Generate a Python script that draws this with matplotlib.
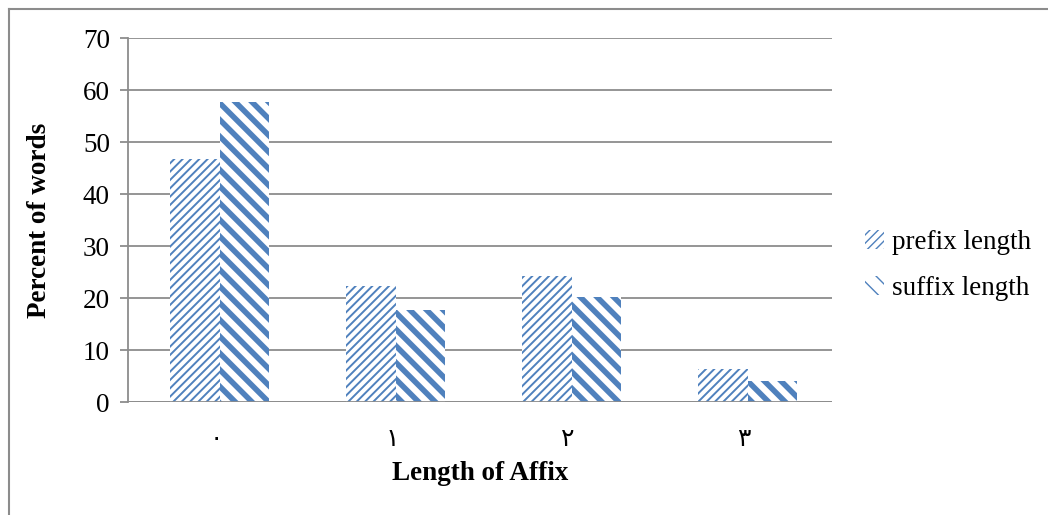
import matplotlib.pyplot as plt
import numpy as np
from matplotlib.lines import Line2D

categories = ["\u0660", "\u0661", "\u0662", "\u0663"]
prefix_length = [46.7, 22.3, 24.2, 6.3]
suffix_length = [57.7, 17.7, 20.2, 4.0]
series_names = ["prefix length", "suffix length"]

blue = "#4F81BD"
plt.rcParams["font.family"] = ["Liberation Serif", "DejaVu Sans"]

fig = plt.figure(figsize=(10.48, 5.15), dpi=100)
ax = fig.add_axes([128 / 1048, 113 / 515, 704 / 1048, 364 / 515])

x = np.arange(len(categories))
w = 0.28
b1 = ax.bar(x - w / 2 + 0.02, prefix_length, w, color="white", edgecolor=blue,
            hatch="////", linewidth=0, label=series_names[0], zorder=3)
b2 = ax.bar(x + w / 2 + 0.02, suffix_length, w, color="white", edgecolor=blue,
            hatch="\\\\", linewidth=0, label=series_names[1], zorder=3)
for p in b1:
    p.set_hatch_linewidth(1.4)
for p in b2:
    p.set_hatch_linewidth(4)

ax.set_xlim(-0.5, 3.5)
ax.set_ylim(0, 70)
ax.set_yticks(range(0, 71, 10))
ax.yaxis.grid(True, color="#8c8c8c", linewidth=1.3, zorder=0)
ax.set_axisbelow(True)
for s in ["top", "right", "bottom"]:
    ax.spines[s].set_visible(False)
ax.spines["left"].set_color("#8c8c8c")
ax.spines["left"].set_linewidth(1.3)
ax.tick_params(axis="y", length=6, color="#8c8c8c", width=1.3, labelsize=19.5, pad=7)
ax.tick_params(axis="x", length=0, pad=18)
ax.set_xticks(x)
ax.set_xticklabels(categories, fontsize=18, family="DejaVu Sans")
ax.axhline(0, color="#8c8c8c", linewidth=1.3, zorder=4)

ax.set_ylabel("Percent of words", fontsize=19.5, fontweight="bold", labelpad=22)
ax.set_xlabel("Length of Affix", fontsize=19.5, fontweight="bold", labelpad=7)

ax.legend(loc="center left", bbox_to_anchor=(1.012, 0.375), frameon=False,
          fontsize=19.5, handlelength=0.7, handleheight=0.7, handletextpad=0.3,
          labelspacing=0.75)

# outer frame (top and left visible)
fig.add_artist(Line2D([8.5 / 1048, 8.5 / 1048], [0, 1 - 8.5 / 515],
                      transform=fig.transFigure, color="#8c8c8c", linewidth=1.5))
fig.add_artist(Line2D([8.5 / 1048, 1], [1 - 8.5 / 515, 1 - 8.5 / 515],
                      transform=fig.transFigure, color="#8c8c8c", linewidth=1.5))

fig.savefig("out.png", dpi=100)
